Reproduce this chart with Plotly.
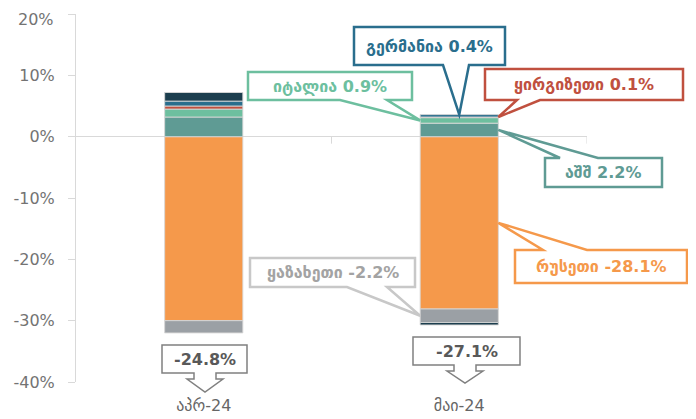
import plotly.graph_objects as go

# ---------------- data ----------------
categories = ["აპრ-24", "მაი-24"]
series_names = ["რუსეთი", "ყაზახეთი", "აშშ", "იტალია", "ყირგიზეთი", "გერმანია", "სხვა"]
russia = [-30.0, -28.1]
kazakhstan = [-2.0, -2.2]
usa = [3.2, 2.2]
italy = [1.3, 0.9]
kyrgyzstan = [0.5, 0.1]
germany = [0.8, 0.4]
other = [1.4, -0.4]
y_ticks = [-40, -30, -20, -10, 0, 10, 20]
y_tick_labels = [f"{v}%" for v in y_ticks]

series_values = [russia, kazakhstan, usa, italy, kyrgyzstan, germany, other]
colors = ["#F5994B", "#9BA0A5", "#5F9B94", "#6DBF9F", "#C0503F", "#2A6E8D", "#1C3E4E"]

# ---------------- geometry (screen pixels; page body has an 8px margin) ----------------
OFF = 8
W, H = 696 - OFF, 419 - OFF
L, R, T, B = 76, 587, 14, 382          # plot area in screen pixels
XR = (-0.5, 1.5)
YR = (-40, 20)
BAR_W = 0.306
xs = list(range(len(categories)))


def ppx(px, py):
    return (px - L) / (R - L), (B - py) / (B - T)


def dpx(x, y):
    return (x - XR[0]) / (XR[1] - XR[0]), (y - YR[0]) / (YR[1] - YR[0])


fig = go.Figure()
for name, vals, col in zip(series_names, series_values, colors):
    fig.add_trace(go.Bar(
        x=xs, y=vals, name=name, width=BAR_W,
        marker=dict(color=col, line=dict(color="rgba(215,215,215,0.9)", width=1)),
        showlegend=False, hoverinfo="skip",
    ))

shapes = []
annotations = []
FONT = "DejaVu Sans"


def fmt(p):
    return f"{p[0]:.5f},{p[1]:.5f}"


def callout(box, base, tip, side, color, text, textcolor=None, lw=2.5, size=16):
    x0, y0, x1, y1 = box
    tl, tr, br, bl = ppx(x0, y0), ppx(x1, y0), ppx(x1, y1), ppx(x0, y1)
    if side == "bottom":
        a, b = ppx(base[0], y1), ppx(base[1], y1)
        path = f"M{fmt(tl)} L{fmt(tr)} L{fmt(br)} L{fmt(b)} L{fmt(tip)} L{fmt(a)} L{fmt(bl)} Z"
    else:
        a, b = ppx(base[0], y0), ppx(base[1], y0)
        path = f"M{fmt(tl)} L{fmt(a)} L{fmt(tip)} L{fmt(b)} L{fmt(tr)} L{fmt(br)} L{fmt(bl)} Z"
    shapes.append(dict(type="path", path=path, xref="paper", yref="paper",
                       fillcolor="white", line=dict(color=color, width=lw), layer="above"))
    cx, cy = ppx((x0 + x1) / 2, (y0 + y1) / 2)
    annotations.append(dict(x=cx, y=cy, xref="paper", yref="paper", text=f"<b>{text}</b>",
                            showarrow=False, xanchor="center", yanchor="middle",
                            font=dict(family=FONT, size=size, color=textcolor or color)))


# May callouts (tips from the data)
m = 1
cum_pos = 0
seg = {}
cum_neg = 0
for name, vals in zip(series_names, series_values):
    v = vals[m]
    if v >= 0:
        seg[name] = (cum_pos, cum_pos + v)
        cum_pos += v
    else:
        seg[name] = (cum_neg, cum_neg + v)
        cum_neg += v

left_e = m - BAR_W / 2
right_e = m + BAR_W / 2


def lbl(i):
    return f"{series_names[i]} {series_values[i][m]:.1f}%"


callout((354, 27, 505, 65), (443, 469), dpx(m, seg["გერმანია"][1]), "bottom", colors[5], lbl(5))
callout((248, 72, 412, 100), (340, 387), dpx(left_e, sum(seg["იტალია"]) / 2), "bottom", colors[3], lbl(3))
callout((485, 69, 683, 100), (517, 540), dpx(right_e, seg["ყირგიზეთი"][1]), "bottom", colors[4], lbl(4))
callout((545, 158, 662, 187), (560, 598), dpx(right_e, sum(seg["აშშ"]) / 2), "top", colors[2], lbl(2))
callout((515, 250, 687, 283), (543, 587), dpx(right_e, sum(seg["რუსეთი"]) / 2), "top", colors[0], lbl(0))
callout((250, 258, 415, 287), (347, 387), dpx(left_e, sum(seg["ყაზახეთი"]) / 2), "bottom", "#C8C8C8", lbl(1),
        textcolor="#A3A3A3")

# Totals with down-arrow boxes
totals = [sum(s[i] for s in series_values) for i in range(len(categories))]
total_boxes = [(162, 345, 247, 373, 205, 392), (413, 337, 520, 365, 465, 383)]
for tot, (x0, y0, x1, y1, cx, ty) in zip(totals, total_boxes):
    pts = [ppx(x0, y0), ppx(x1, y0), ppx(x1, y1), ppx(cx + 11, y1), ppx(cx + 11, y1 + 6),
           ppx(cx + 18, y1 + 6), ppx(cx, ty), ppx(cx - 18, y1 + 6), ppx(cx - 11, y1 + 6),
           ppx(cx - 11, y1), ppx(x0, y1)]
    path = "M" + " L".join(fmt(p) for p in pts) + " Z"
    shapes.append(dict(type="path", path=path, xref="paper", yref="paper", fillcolor="white",
                       line=dict(color="#808080", width=1.5), layer="above"))
    tx, tyy = ppx((x0 + x1) / 2, (y0 + y1) / 2)
    annotations.append(dict(x=tx, y=tyy, xref="paper", yref="paper", text=f"<b>{tot:.1f}%</b>",
                            showarrow=False, xanchor="center", yanchor="middle",
                            font=dict(family=FONT, size=16, color="#595959")))

# category boundary ticks on the zero line
for xb in [0.5, 1.5]:
    shapes.append(dict(type="line", xref="x", yref="paper", x0=xb, x1=xb,
                       y0=dpx(0, 0)[1], y1=dpx(0, 0)[1] - 7 / (B - T),
                       line=dict(color="#D9D9D9", width=1), layer="below"))

# the top tick label is placed as an annotation so it is not cut by the page edge
tick_text_shown = y_tick_labels[:-1] + [""]
tx, ty = ppx(56, OFF)
annotations.append(dict(x=tx, y=ty, xref="paper", yref="paper", text=y_tick_labels[-1],
                        showarrow=False, xanchor="right", yanchor="top",
                        font=dict(family=FONT, size=16, color="#737373")))

fig.update_layout(
    width=W, height=H,
    margin=dict(l=L - OFF, r=W - (R - OFF), t=T - OFF, b=H - (B - OFF), autoexpand=False),
    barmode="relative",
    plot_bgcolor="white", paper_bgcolor="white",
    shapes=shapes, annotations=annotations,
    xaxis=dict(range=list(XR), tickvals=xs, ticktext=categories, showgrid=False,
               zeroline=False, showline=False, ticks="", automargin=False,
               ticklabelstandoff=12,
               tickfont=dict(family=FONT, size=16, color="#666666")),
    yaxis=dict(range=list(YR), tickvals=y_ticks, ticktext=tick_text_shown, showgrid=False,
               zeroline=True, zerolinecolor="#D9D9D9", zerolinewidth=1, automargin=False,
               showline=True, linecolor="#D9D9D9", linewidth=1,
               ticks="outside", ticklen=7, tickcolor="#D9D9D9", ticklabelstandoff=10,
               tickfont=dict(family=FONT, size=16, color="#737373")),
    font=dict(family=FONT),
)

fig.write_html("out.html")
